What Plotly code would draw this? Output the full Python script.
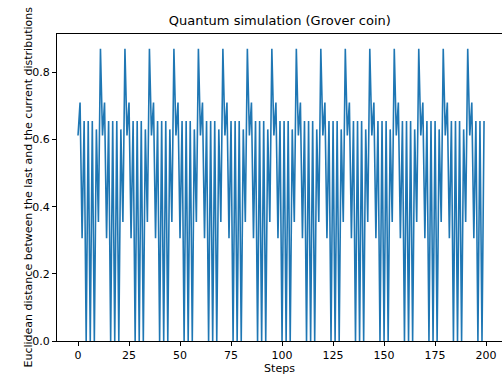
import plotly.graph_objects as go

steps = list(range(200))
distance = [
    0.612, 0.71, 0.306, 0.655, 0.0, 0.655, 0.0, 0.655, 0.0, 0.63, 0.354, 0.87,
    0.612, 0.71, 0.306, 0.655, 0.0, 0.655, 0.0, 0.655, 0.0, 0.63, 0.354, 0.87,
    0.612, 0.71, 0.306, 0.655, 0.0, 0.655, 0.0, 0.655, 0.0, 0.63, 0.354, 0.87,
    0.612, 0.71, 0.306, 0.655, 0.0, 0.655, 0.0, 0.655, 0.0, 0.63, 0.354, 0.87,
    0.612, 0.71, 0.306, 0.655, 0.0, 0.655, 0.0, 0.655, 0.0, 0.63, 0.354, 0.87,
    0.612, 0.71, 0.306, 0.655, 0.0, 0.655, 0.0, 0.655, 0.0, 0.63, 0.354, 0.87,
    0.612, 0.71, 0.306, 0.655, 0.0, 0.655, 0.0, 0.655, 0.0, 0.63, 0.354, 0.87,
    0.612, 0.71, 0.306, 0.655, 0.0, 0.655, 0.0, 0.655, 0.0, 0.63, 0.354, 0.87,
    0.612, 0.71, 0.306, 0.655, 0.0, 0.655, 0.0, 0.655, 0.0, 0.63, 0.354, 0.87,
    0.612, 0.71, 0.306, 0.655, 0.0, 0.655, 0.0, 0.655, 0.0, 0.63, 0.354, 0.87,
    0.612, 0.71, 0.306, 0.655, 0.0, 0.655, 0.0, 0.655, 0.0, 0.63, 0.354, 0.87,
    0.612, 0.71, 0.306, 0.655, 0.0, 0.655, 0.0, 0.655, 0.0, 0.63, 0.354, 0.87,
    0.612, 0.71, 0.306, 0.655, 0.0, 0.655, 0.0, 0.655, 0.0, 0.63, 0.354, 0.87,
    0.612, 0.71, 0.306, 0.655, 0.0, 0.655, 0.0, 0.655, 0.0, 0.63, 0.354, 0.87,
    0.612, 0.71, 0.306, 0.655, 0.0, 0.655, 0.0, 0.655, 0.0, 0.63, 0.354, 0.87,
    0.612, 0.71, 0.306, 0.655, 0.0, 0.655, 0.0, 0.655, 0.0, 0.63, 0.354, 0.87,
    0.612, 0.71, 0.306, 0.655, 0.0, 0.655, 0.0, 0.655,
]
x_ticks = [0, 25, 50, 75, 100, 125, 150, 175, 200]
y_ticks = [0.0, 0.2, 0.4, 0.6, 0.8]

font = "DejaVu Sans"

fig = go.Figure()
fig.add_trace(go.Scatter(
    x=steps, y=distance, mode="lines",
    line=dict(color="#1f77b4", width=1.6),
    showlegend=False,
))

fig.update_layout(
    width=502, height=378,
    margin=dict(l=57, r=0, t=34, b=37),
    paper_bgcolor="white", plot_bgcolor="white",
    font=dict(family=font, size=11, color="black"),
    title=dict(text="Quantum simulation (Grover coin)", x=0.5575, xanchor="center",
               y=0.945, yanchor="middle", font=dict(family=font, size=13, color="black")),
    annotations=[dict(
        text="Euclidean distance between the last and the current distributions",
        xref="paper", yref="paper", x=-29 / 445, y=0.5,
        xanchor="center", yanchor="middle", textangle=-90, showarrow=False,
        font=dict(family=font, size=11, color="black"),
    )],
)
fig.update_xaxes(
    range=[-10.3, 207.8], tickvals=x_ticks, ticktext=[str(v) for v in x_ticks],
    showgrid=False, zeroline=False,
    showline=True, linecolor="black", linewidth=1, mirror=True,
    ticks="outside", ticklen=4, tickcolor="black",
    title=dict(text="Steps", standoff=2, font=dict(family=font, size=11)),
)
fig.update_yaxes(
    range=[0, 0.914], tickvals=y_ticks, ticktext=[f"{v:.1f}" for v in y_ticks],
    showgrid=False, zeroline=False,
    showline=True, linecolor="black", linewidth=1,
    ticks="outside", ticklen=4, tickcolor="black",
)

fig.write_html("out.html")
